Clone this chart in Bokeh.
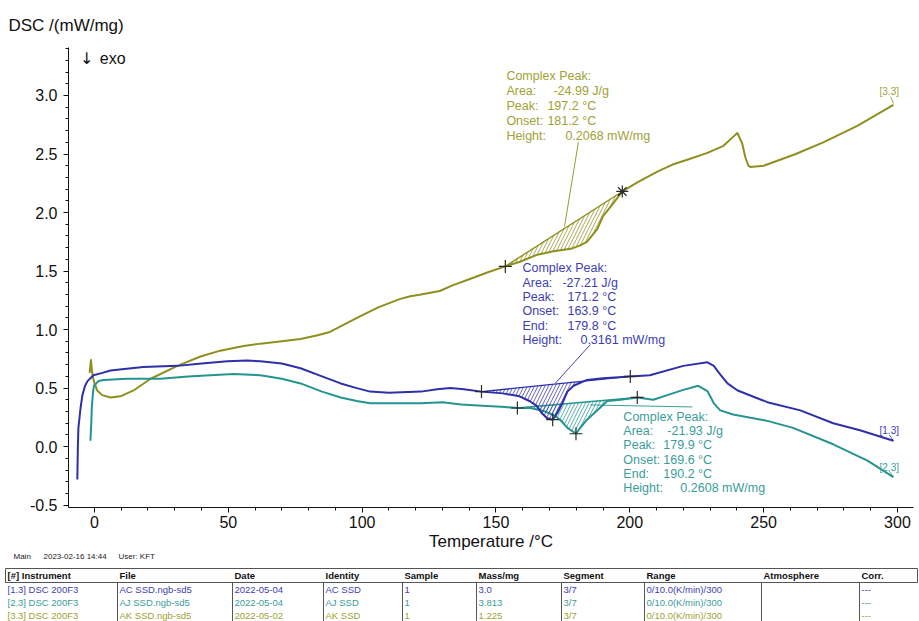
import numpy as np
from bokeh.plotting import figure
from bokeh.models import Range1d, SingleIntervalTicker, PrintfTickFormatter
from bokeh.layouts import column
from bokeh.embed import file_html
from bokeh.resources import INLINE
from bokeh.core.properties import value

FONT = "Liberation Sans"
BLUE, TEAL, OLIVE = "#2f2fa8", "#24948f", "#8f8f1f"
BLUE_T, TEAL_T, OLIVE_T = "#3d3db5", "#3a9d98", "#a1a134"

# ---------------- data ----------------
blue_T = [-6.4, -6.2, -6.0, -5.2, -4.5, -3.5, -2.6, -0.4, 3.0, 6.0, 12.0, 18.3, 31.0, 40.0, 49.7,
          57.0, 62.0, 70.0, 77.0, 85.0, 92.0, 98.0, 103.0, 110.0, 122.0, 128.0, 133.0, 138.0,
          144.6, 152.5, 158.8, 162.5, 165.1, 167.0, 169.0, 171.2, 173.0, 174.8, 176.7, 179.0,
          184.0, 190.0, 200.2, 207.5, 220.0, 229.0, 231.4, 234.0, 236.5, 240.3, 251.4, 263.7,
          276.0, 286.0, 298.5]
blue_V = [-0.28, 0.0, 0.16, 0.33, 0.44, 0.52, 0.56, 0.61, 0.63, 0.65, 0.665, 0.68, 0.69, 0.71, 0.73,
          0.735, 0.73, 0.71, 0.67, 0.60, 0.54, 0.50, 0.47, 0.46, 0.47, 0.49, 0.50, 0.49,
          0.47, 0.455, 0.43, 0.39, 0.35, 0.29, 0.245, 0.23, 0.29, 0.37, 0.47, 0.52,
          0.57, 0.585, 0.60, 0.61, 0.69, 0.72, 0.69, 0.61, 0.54, 0.48, 0.38, 0.31,
          0.20, 0.14, 0.05]

teal_T = [-1.5, -1.2, -1.0, -0.6, -0.2, 1.5, 3.4, 12.3, 24.7, 35.0, 43.3, 52.0, 62.0, 70.0, 77.0,
          85.0, 92.0, 98.0, 103.0, 112.0, 122.0, 130.0, 137.0, 145.0, 152.0, 158.0, 162.9, 167.7,
          171.5, 174.0, 176.7, 179.9, 181.5, 184.0, 187.9, 191.6, 196.5, 202.8, 208.8, 214.0,
          220.0, 225.6, 229.0, 231.4, 233.8, 238.6, 251.4, 261.0, 276.0, 288.8, 298.5]
teal_V = [0.05, 0.20, 0.33, 0.45, 0.52, 0.56, 0.57, 0.58, 0.58, 0.60, 0.61, 0.62, 0.61, 0.58, 0.54,
          0.47, 0.42, 0.39, 0.37, 0.37, 0.37, 0.38, 0.36, 0.35, 0.34, 0.33, 0.33, 0.305,
          0.27, 0.23, 0.16, 0.11, 0.16, 0.23, 0.31, 0.39, 0.40, 0.42, 0.40, 0.44,
          0.485, 0.52, 0.475, 0.37, 0.31, 0.275, 0.22, 0.16, 0.02, -0.12, -0.26]

olive_T = [-1.8, -1.5, -1.3, -0.9, -0.25, 1.0, 2.9, 6.0, 9.7, 14.6, 21.0, 31.0, 39.6, 47.0, 55.7,
           62.0, 70.0, 77.0, 83.0, 88.0, 93.0, 99.0, 106.0, 114.0, 118.0, 122.0, 129.0, 134.0,
           140.0, 147.0, 153.5, 159.0, 165.5, 171.5, 178.0, 181.5, 184.0, 187.9, 190.0, 193.9,
           197.2, 203.0, 210.3, 216.0, 222.6, 229.0, 235.0, 238.3, 240.2, 242.0, 243.2, 244.3,
           245.0, 250.0, 253.6, 262.0, 272.3, 285.0, 298.5]
olive_V = [0.63, 0.70, 0.74, 0.64, 0.56, 0.48, 0.44, 0.42, 0.43, 0.48, 0.58, 0.69, 0.77, 0.82, 0.86,
           0.88, 0.90, 0.92, 0.95, 0.98, 1.04, 1.11, 1.19, 1.26, 1.285, 1.30, 1.33, 1.38,
           1.43, 1.49, 1.54, 1.58, 1.64, 1.67, 1.69, 1.72, 1.75, 1.86, 1.97, 2.08,
           2.18, 2.26, 2.35, 2.41, 2.46, 2.51, 2.57, 2.64, 2.68, 2.59, 2.47, 2.40,
           2.39, 2.40, 2.43, 2.50, 2.60, 2.74, 2.92]

# peak evaluation limits (start, peak, end) in deg C
blue_peak = [144.6, 171.2, 200.2]
teal_peak = [158.0, 179.9, 202.8]
olive_peak = [153.5, 197.2, 197.2]

blue_ann = ["Complex Peak:", ("Area:", "-27.21 J/g"), ("Peak:", "171.2 °C"), ("Onset:", "163.9 °C"),
            ("End:", "179.8 °C"), ("Height:", "0.3161 mW/mg")]
teal_ann = ["Complex Peak:", ("Area:", "-21.93 J/g"), ("Peak:", "179.9 °C"), ("Onset:", "169.6 °C"),
            ("End:", "190.2 °C"), ("Height:", "0.2608 mW/mg")]
olive_ann = ["Complex Peak:", ("Area:", "-24.99 J/g"), ("Peak:", "197.2 °C"), ("Onset:", "181.2 °C"),
             ("Height:", "0.2068 mW/mg")]

tbl_header = ["[#] Instrument", "File", "Date", "Identity", "Sample", "Mass/mg", "Segment",
              "Range", "Atmosphere", "Corr."]
tbl_rows = [
    ["[1.3] DSC 200F3", "AC SSD.ngb-sd5", "2022-05-04", "AC SSD", "1", "3.0", "3/7", "0/10.0(K/min)/300", "", "---"],
    ["[2.3] DSC 200F3", "AJ SSD.ngb-sd5", "2022-05-04", "AJ SSD", "1", "3.813", "3/7", "0/10.0(K/min)/300", "", "---"],
    ["[3.3] DSC 200F3", "AK SSD.ngb-sd5", "2022-05-02", "AK SSD", "1", "1.225", "3/7", "0/10.0(K/min)/300", "", "---"],
]

# ---------------- main plot ----------------
p = figure(width=919, height=553, x_range=Range1d(-9.7, 306), y_range=Range1d(-0.52, 3.41),
           output_backend="svg", toolbar_location=None,
           min_border_left=68, min_border_right=6, min_border_top=47, min_border_bottom=41)
p.grid.visible = False
p.outline_line_color = None

p.title.text = "DSC /(mW/mg)"
p.title.align = "left"
p.title.offset = -60
p.title.text_font = FONT
p.title.text_font_size = "17px"
p.title.text_font_style = "normal"
p.title.text_color = "#111111"
p.title.standoff = 25

p.xaxis.ticker = SingleIntervalTicker(interval=50, num_minor_ticks=5)
p.yaxis.ticker = SingleIntervalTicker(interval=0.5, num_minor_ticks=5)
p.yaxis.formatter = PrintfTickFormatter(format="%.1f")
for ax in (p.xaxis, p.yaxis):
    ax.major_label_text_font = FONT
    ax.major_label_text_font_size = "16px"
    ax.major_label_text_color = "#111111"
    ax.major_tick_in = 0
    ax.major_tick_out = 5
    ax.minor_tick_in = 0
    ax.minor_tick_out = 3
    ax.axis_line_color = "#111111"
    ax.major_tick_line_color = "#111111"
    ax.minor_tick_line_color = "#111111"
p.xaxis.axis_label = "Temperature /°C"
p.xaxis.axis_label_text_font = FONT
p.xaxis.axis_label_text_font_size = "17px"
p.xaxis.axis_label_text_font_style = "normal"
p.xaxis.axis_label_text_color = "#111111"
p.xaxis.axis_label_standoff = 1
p.xaxis.major_label_standoff = 3
p.yaxis.major_label_standoff = 6


def draw_series(T, V, color, lims, star_end=False):
    T = np.asarray(T, float)
    V = np.asarray(V, float)
    lo, pk, hi = lims
    m = (T >= lo) & (T <= hi)
    p.patch(T[m], V[m], fill_color=None, line_color=None, hatch_pattern="/",
            hatch_color=color, hatch_scale=7, hatch_weight=0.9, hatch_alpha=0.85)
    ylo, yhi = np.interp(lo, T, V), np.interp(hi, T, V)
    p.line([lo, hi], [ylo, yhi], line_color=color, line_width=1.4)
    p.line(T, V, line_color=color, line_width=2, line_join="round")
    xs = [lo, pk, hi] if not star_end else [lo]
    p.scatter(xs, list(np.interp(xs, T, V)), marker="cross", size=13,
              line_color="#2a2a2a", line_width=1.2)
    if star_end:
        p.scatter([hi], [yhi], marker="asterisk", size=12, line_color="#2a2a2a", line_width=1.2)


draw_series(olive_T, olive_V, OLIVE, olive_peak, star_end=True)
draw_series(teal_T, teal_V, TEAL, teal_peak)
draw_series(blue_T, blue_V, BLUE, blue_peak)


def ann_block(x0, y0, color, lines, dxs, spacing):
    for i, ln in enumerate(lines):
        yo = i * spacing
        if isinstance(ln, str):
            p.text([x0], [y0], text=[ln], text_font=value(FONT), text_font_size="12.5px",
                   text_color=color, text_baseline="middle", y_offset=yo)
        else:
            p.text([x0], [y0], text=[ln[0]], text_font=value(FONT), text_font_size="12.5px",
                   text_color=color, text_baseline="middle", y_offset=yo)
            p.text([x0], [y0], text=[ln[1]], text_font=value(FONT), text_font_size="12.5px",
                   text_color=color, text_baseline="middle", y_offset=yo, x_offset=dxs[i - 1])


ann_block(153.9, 3.17, OLIVE_T, olive_ann, [47, 41, 41, 59], 15)
ann_block(159.9, 1.525, BLUE_T, blue_ann, [40, 45, 45, 45, 58], 14.4)
ann_block(197.6, 0.255, TEAL_T, teal_ann, [44, 40, 40, 40, 57], 14.3)

# leader lines
p.line([180.8, 175.6], [2.60, 1.88], line_color=OLIVE, line_width=0.9)
p.line([185.3, 172.2], [0.873, 0.542], line_color=BLUE, line_width=0.9)
p.line([185.3, 223.4], [0.356, 0.339], line_color=TEAL, line_width=0.9)

# curve id labels
for lab, yv, col in (("[3.3]", 3.03, OLIVE_T), ("[1.3]", 0.136, BLUE_T), ("[2.3]", -0.178, TEAL_T)):
    p.text([293.3], [yv], text=[lab], text_font=value(FONT), text_font_size="10px",
           text_color=col, text_baseline="middle")
p.line([297.5, 298.5], [2.99, 2.93], line_color=OLIVE, line_width=0.8)
p.line([297.0, 298.5], [0.10, 0.05], line_color=BLUE, line_width=0.8)
p.line([297.0, 298.5], [-0.21, -0.26], line_color=TEAL, line_width=0.8)

p.text([-5.4], [3.32], text=["↓"], text_font=value("DejaVu Sans"), text_font_size="16px",
       text_color="#111111", text_baseline="middle")
p.text([2.0], [3.32], text=["exo"], text_font=value(FONT), text_font_size="16px",
       text_color="#111111", text_baseline="middle")

# ---------------- table ----------------
t = figure(width=919, height=68, x_range=Range1d(0, 919), y_range=Range1d(621, 553),
           output_backend="svg", toolbar_location=None, min_border=0,
           x_axis_location=None, y_axis_location=None)
t.grid.visible = False
t.outline_line_color = None
for fig in (p, t):
    try:
        fig.frame_align = False
    except Exception:
        pass

for s, xx in (("Main", 13), ("2023-02-16 14:44", 43), ("User: KFT", 118)):
    t.text([xx], [555.5], text=[s], text_font=value(FONT), text_font_size="8px",
           text_color="#222222", text_baseline="middle")

col_x = [5, 117, 232, 323, 402, 476, 561, 644, 761, 859]
LC = "#555555"
t.line([5, 917], [568, 568], line_color=LC, line_width=1)
t.line([5, 917], [582, 582], line_color=LC, line_width=1)
t.line([5, 5], [568, 582], line_color=LC, line_width=1)
t.line([917, 917], [568, 582], line_color=LC, line_width=1)
for cx in col_x[1:]:
    t.line([cx, cx], [582, 621], line_color=LC, line_width=1)

t.text([c + 2 for c in col_x], [575] * len(col_x), text=tbl_header, text_font=value(FONT),
       text_font_size="9.5px", text_font_style="bold", text_color="#111111", text_baseline="middle")
for row, yy, col in zip(tbl_rows, [589.3, 602.3, 615], [BLUE_T, TEAL_T, OLIVE_T]):
    t.text([c + 2 for c in col_x], [yy] * len(col_x), text=row, text_font=value(FONT),
           text_font_size="9.5px", text_color=col, text_baseline="middle")

layout = column(p, t)
open("out.html", "w").write(file_html(layout, INLINE))
